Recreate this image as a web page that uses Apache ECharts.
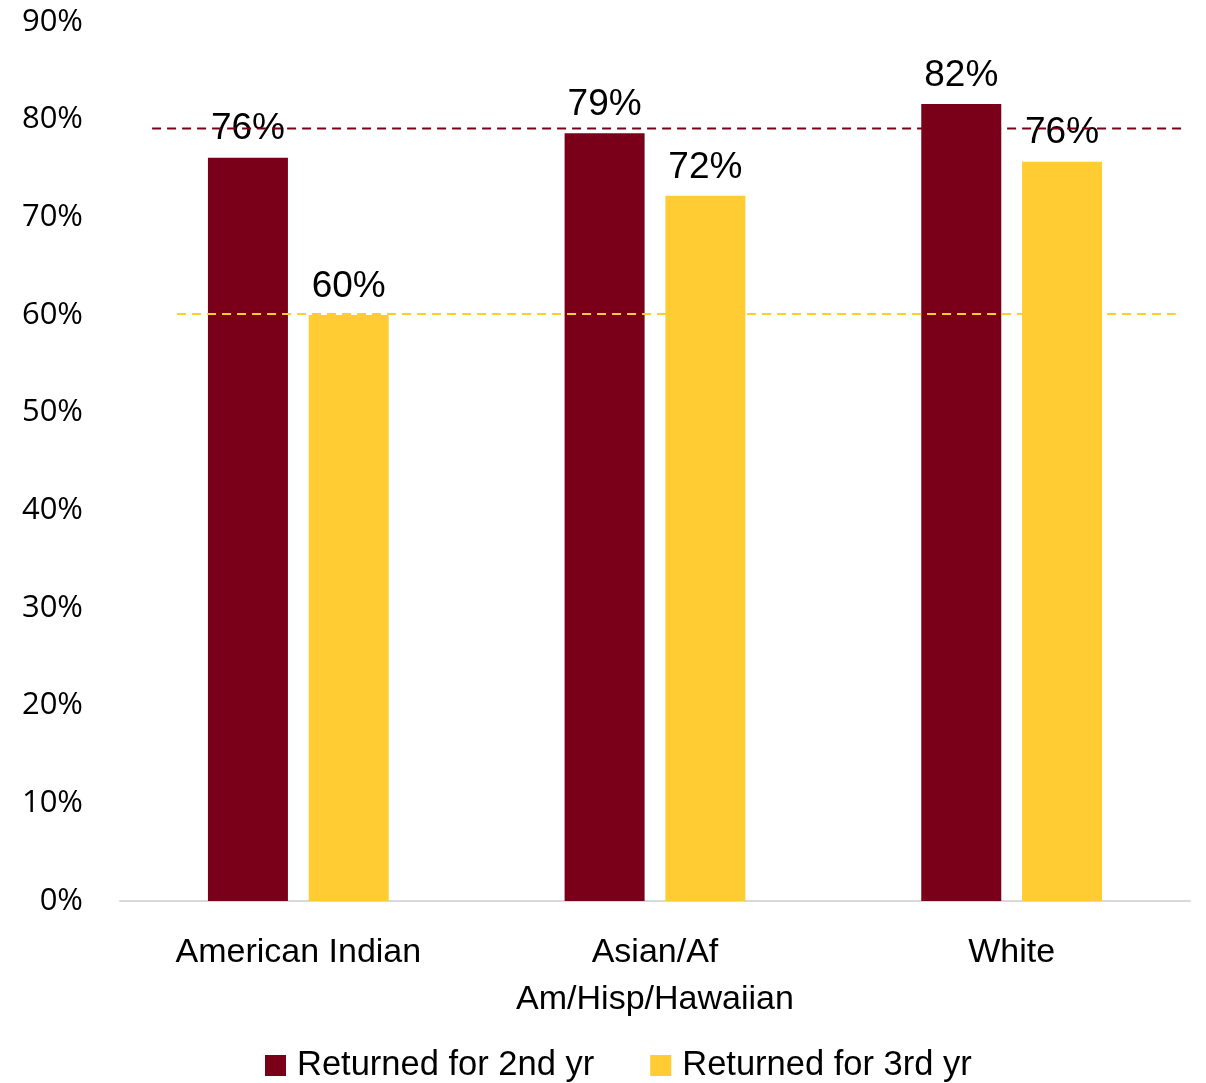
<!DOCTYPE html>
<html>
<head>
<meta charset="utf-8">
<script src="https://cdn.jsdelivr.net/npm/echarts@6/dist/echarts.min.js"></script>
<style>
html,body{margin:0;padding:0;background:#fff;}
#chart{width:1206px;height:1083px;}
</style>
</head>
<body>
<div id="chart"></div>
<script>
const categories = ['American Indian', 'Asian/Af\nAm/Hisp/Hawaiian', 'White'];
const seriesNames = ['Returned for 2nd yr', 'Returned for 3rd yr'];
const returned2nd = [76.1, 78.6, 81.6];
const returned3rd = [60.0, 72.2, 75.7];
const benchmark2nd = 79.1;
const benchmark3rd = 60.1;
const benchmark2ndSpan = [0.09, 2.98];
const benchmark3rdSpan = [0.16, 2.96];
const yTicks = [0, 10, 20, 30, 40, 50, 60, 70, 80, 90];

const maroon = '#7A0019';
const gold = '#FFCC33';

const chart = echarts.init(document.getElementById('chart'), null, {renderer: 'canvas'});
const labelStyle = {
  show: true, position: 'top', distance: 10,
  color: '#000', fontFamily: 'Liberation Sans', fontSize: 37,
  formatter: p => Math.round(p.value) + '%'
};
chart.setOption({
  animation: false,
  backgroundColor: '#fff',
  grid: {left: 120, right: 16, top: 22, bottom: 182},
  legend: {
    data: seriesNames, bottom: -5, left: 260,
    itemWidth: 21, itemHeight: 21, itemGap: 56, icon: 'rect',
    textStyle: {fontFamily: 'Liberation Sans', fontSize: 34.5, color: '#000', padding: [0, 0, 0, 6]}
  },
  xAxis: [{
    type: 'category', data: categories,
    axisLine: {lineStyle: {color: '#d9d9d9', width: 2}},
    axisTick: {show: false},
    axisLabel: {interval: 0, color: '#000', fontFamily: 'Liberation Sans', fontSize: 34, lineHeight: 47, margin: 28}
  }, {
    type: 'value', min: 0, max: 3, show: false
  }],
  yAxis: {
    type: 'value', min: yTicks[0], max: yTicks[yTicks.length - 1], interval: 10,
    axisLine: {show: false}, axisTick: {show: false}, splitLine: {show: false},
    axisLabel: {color: '#000', fontFamily: 'Open Sans', fontSize: 31, margin: 37, formatter: v => v + '%'}
  },
  series: [{
    name: seriesNames[0], type: 'bar', data: returned2nd, barWidth: 80, barGap: '26%',
    itemStyle: {color: maroon}, label: labelStyle, z: 2
  }, {
    name: seriesNames[1], type: 'bar', data: returned3rd, barWidth: 80,
    itemStyle: {color: gold}, label: labelStyle, z: 2
  }, {
    type: 'line', xAxisIndex: 1, symbol: 'none', silent: true, z: 3,
    data: benchmark2ndSpan.map(x => [x, benchmark2nd]),
    lineStyle: {color: maroon, width: 2, type: [9, 6]}
  }, {
    type: 'line', xAxisIndex: 1, symbol: 'none', silent: true, z: 3,
    data: benchmark3rdSpan.map(x => [x, benchmark3rd]),
    lineStyle: {color: gold, width: 2, type: [9, 6]}
  }]
});
</script>
</body>
</html>
